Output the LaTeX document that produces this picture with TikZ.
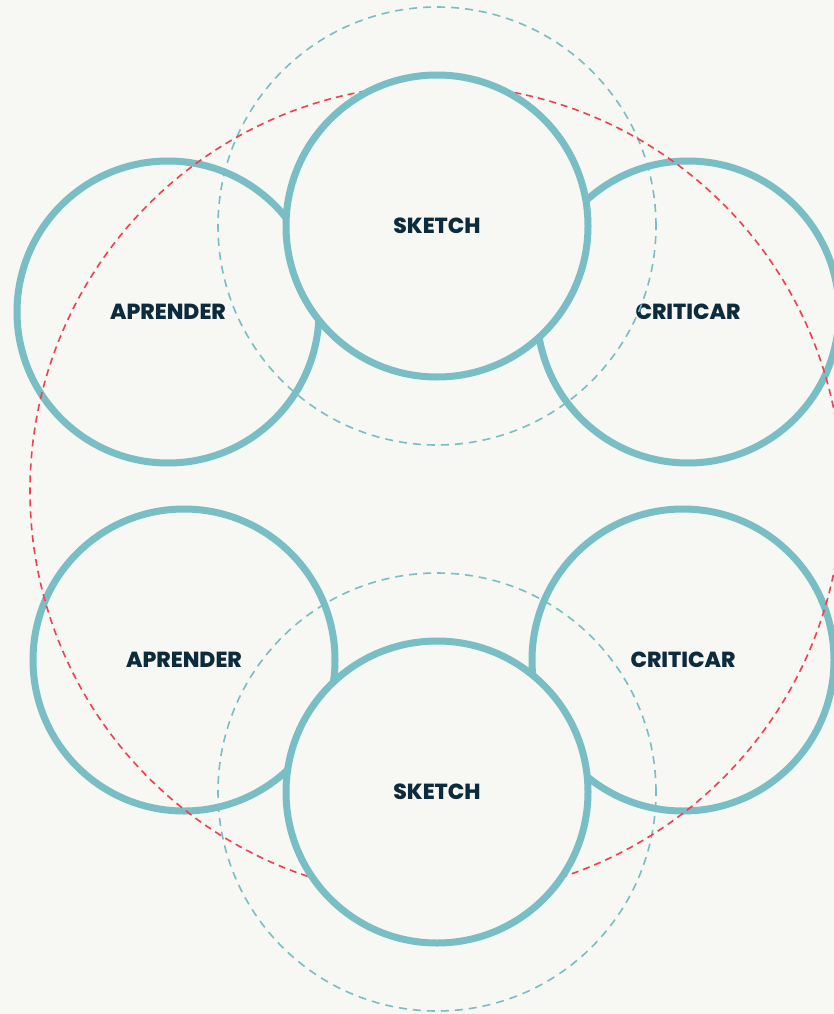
\documentclass[tikz,border=0pt]{standalone}
\usepackage{fontspec}
\setmainfont{Poppins}
\newfontfamily\heavyfont{Poppins}[UprightFont=* ExtraBold]
\definecolor{bgc}{HTML}{F7F7F3}
\definecolor{tealc}{HTML}{79BEC5}
\definecolor{redc}{HTML}{F0404F}
\definecolor{navy}{HTML}{0C2B3D}
\tikzset{
  ring/.style={circle, draw=tealc, line width=7pt, minimum size=302pt, inner sep=0pt,
    font=\heavyfont\fontsize{21.8}{24}\selectfont, text=navy},
  front/.style={ring, fill=bgc},
  tealdash/.style={circle, draw=tealc, line width=1.6pt, dash pattern=on 8pt off 6pt, minimum size=438pt, inner sep=0pt},
  reddash/.style={circle, draw=redc, line width=1.6pt, dash pattern=on 7pt off 5pt, minimum size=812pt, inner sep=0pt}
}
\begin{document}
\begin{tikzpicture}[x=1pt,y=-1pt]
\fill[bgc] (0,0) rectangle (834,1014);
\useasboundingbox (0,0) rectangle (834,1014);
% side circles
\node[ring] (apr1) at (168,312) {APRENDER};
\node[ring] (cri1) at (688,312) {CRITICAR};
\node[ring] (apr2) at (184,660) {APRENDER};
\node[ring] (cri2) at (683,660) {CRITICAR};
% dashed guides
\node[tealdash] (tg1) at (437,226) {};
\node[tealdash] (tg2) at (437,792) {};
\node[reddash] (rg) at (436,491) {};
% front circles
\node[front] (sk1) at (437,226) {SKETCH};
\node[front] (sk2) at (437,792) {SKETCH};
\end{tikzpicture}
\end{document}
